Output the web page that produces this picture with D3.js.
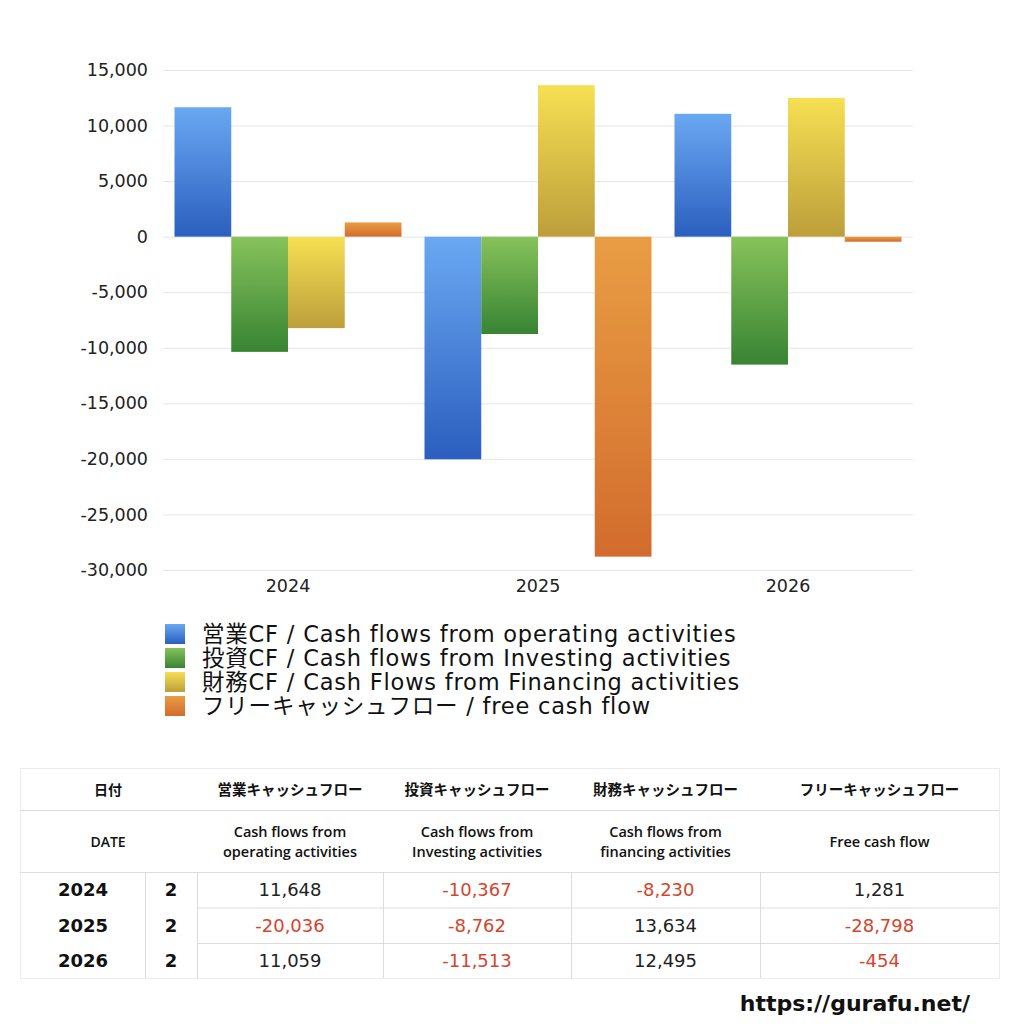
<!DOCTYPE html>
<html lang="ja">
<head>
  <meta charset="utf-8">
  <title>キャッシュフロー</title>
  <style>
    body { margin: 0; background: #fff; }
    svg { font-family: "DejaVu Sans", "Noto Sans CJK JP", sans-serif; }
    .hd { font-family: "Open Sans", "Noto Sans CJK JP", sans-serif; }
  </style>
</head>
<body>
  <script src="https://cdn.jsdelivr.net/npm/d3@7"></script>
  <script>
    var width = 1024;
    var height = 1024;

    // data
    var years = ["2024", "2025", "2026"];
    var counts = [2, 2, 2];
    var operating = [11648, -20036, 11059];
    var investing = [-10367, -8762, -11513];
    var financing = [-8230, 13634, 12495];
    var freeCash = [1281, -28798, -454];
    var yTicks = [15000, 10000, 5000, 0, -5000, -10000, -15000, -20000, -25000, -30000];

    var legendLabels = [
      "営業CF / Cash flows from operating activities",
      "投資CF / Cash flows from Investing activities",
      "財務CF / Cash Flows from Financing activities",
      "フリーキャッシュフロー / free cash flow"
    ];
    var headJa = ["営業キャッシュフロー", "投資キャッシュフロー", "財務キャッシュフロー", "フリーキャッシュフロー"];
    var headEn = [["Cash flows from", "operating activities"], ["Cash flows from", "Investing activities"],
                  ["Cash flows from", "financing activities"], ["Free cash flow"]];

    var series = [operating, investing, financing, freeCash];
    var grads = [["#6aa8f2", "#2b5fbf"], ["#87c25b", "#388433"], ["#f6e052", "#bd9e3b"], ["#e99d43", "#d26c2d"]];

    var fmt = d3.formatLocale({ decimal: ".", thousands: ",", grouping: [3], currency: ["", ""], minus: "-" }).format(",");

    var svg = d3.select("body").append("svg")
                .attr("width", width)
                .attr("height", height);

    var defs = svg.append("defs");
    grads.forEach(function(g, i) {
      var lg = defs.append("linearGradient")
                   .attr("id", "g" + i)
                   .attr("x1", 0).attr("y1", 0).attr("x2", 0).attr("y2", 1);
      lg.append("stop").attr("offset", "0%").attr("stop-color", g[0]);
      lg.append("stop").attr("offset", "100%").attr("stop-color", g[1]);
    });

    // chart
    var plotLeft = 163, plotRight = 913, plotTop = 70, plotBottom = 570;

    var y = d3.scaleLinear().domain([-30000, 15000]).range([plotBottom, plotTop]);
    var x0 = d3.scaleBand().domain(years).range([plotLeft, plotRight]).paddingInner(0.092).paddingOuter(0.046);
    var x1 = d3.scaleBand().domain(d3.range(series.length)).range([0, x0.bandwidth()]);

    var grid = svg.append("g");
    grid.selectAll("line").data(yTicks).enter().append("line")
        .attr("x1", plotLeft).attr("x2", plotRight)
        .attr("y1", function(d) { return y(d) + 0.5; })
        .attr("y2", function(d) { return y(d) + 0.5; })
        .attr("stroke", "#e6e6e6").attr("stroke-width", 1);

    var yAxis = svg.append("g")
        .attr("transform", "translate(" + (plotLeft - 15) + ",0)")
        .call(d3.axisLeft(y).tickValues(yTicks).tickSize(0).tickPadding(0).tickFormat(fmt));
    yAxis.select(".domain").remove();
    yAxis.selectAll("text").attr("font-size", 17.5).attr("fill", "#222")
         .attr("font-family", "'DejaVu Sans', sans-serif");

    var xAxis = svg.append("g")
        .attr("transform", "translate(0," + (plotBottom + 10) + ")")
        .call(d3.axisBottom(x0).tickSize(0).tickPadding(0));
    xAxis.select(".domain").remove();
    xAxis.selectAll("text").attr("font-size", 17.5).attr("fill", "#222")
         .attr("font-family", "'DejaVu Sans', sans-serif");

    var groups = svg.append("g").selectAll("g").data(years).enter().append("g")
        .attr("transform", function(d) { return "translate(" + x0(d) + ",0)"; });

    groups.selectAll("rect")
        .data(function(d, i) { return series.map(function(s, k) { return { k: k, v: s[i] }; }); })
        .enter().append("rect")
        .attr("x", function(d) { return x1(d.k); })
        .attr("width", x1.bandwidth())
        .attr("y", function(d) { return y(Math.max(0, d.v)); })
        .attr("height", function(d) { return Math.abs(y(d.v) - y(0)); })
        .attr("fill", function(d) { return "url(#g" + d.k + ")"; });

    // legend
    var legend = svg.append("g").attr("transform", "translate(165,624)");
    legendLabels.forEach(function(t, i) {
      legend.append("rect")
            .attr("x", 0).attr("y", i * 24)
            .attr("width", 20).attr("height", 20)
            .attr("fill", "url(#g" + i + ")");
      legend.append("text")
            .attr("x", 37).attr("y", i * 24 + 18)
            .attr("font-size", 22.5).attr("letter-spacing", 0.8).attr("fill", "#111")
            .text(t);
    });

    // table
    var tl = 20, tr = 999;
    var rowY = [768, 810, 872, 907.5, 943, 978];
    var colX = [20, 145, 197, 383, 571, 760, 999];
    var lineColor = "#dcdcdc";
    var tbl = svg.append("g");

    tbl.append("rect").attr("x", tl + 0.5).attr("y", rowY[0] + 0.5)
       .attr("width", tr - tl).attr("height", rowY[5] - rowY[0])
       .attr("fill", "none").attr("stroke", "#ececec");

    [rowY[1], rowY[2]].forEach(function(yy) {
      tbl.append("line").attr("x1", tl).attr("x2", tr).attr("y1", yy + 0.5).attr("y2", yy + 0.5)
         .attr("stroke", lineColor);
    });
    [rowY[3], rowY[4]].forEach(function(yy) {
      tbl.append("line").attr("x1", colX[2]).attr("x2", tr).attr("y1", yy + 0.5).attr("y2", yy + 0.5)
         .attr("stroke", lineColor);
    });
    colX.slice(1, 6).forEach(function(xx) {
      tbl.append("line").attr("x1", xx + 0.5).attr("x2", xx + 0.5).attr("y1", rowY[2]).attr("y2", rowY[5])
         .attr("stroke", lineColor);
    });

    var colCenter = function(i) { return (colX[i + 2] + colX[i + 3]) / 2; };

    tbl.append("text").attr("class", "hd").attr("x", 108).attr("y", 795).attr("text-anchor", "middle")
       .attr("font-size", 14).attr("font-weight", "bold").attr("fill", "#111").text("日付");
    tbl.append("text").attr("class", "hd").attr("x", 108).attr("y", 847).attr("text-anchor", "middle")
       .attr("font-size", 14).attr("font-weight", 600).attr("fill", "#111").text("DATE");

    headJa.forEach(function(t, i) {
      tbl.append("text").attr("class", "hd").attr("x", colCenter(i)).attr("y", 795).attr("text-anchor", "middle")
         .attr("font-size", 14.5).attr("font-weight", "bold").attr("fill", "#111").text(t);
      var lines = headEn[i];
      lines.forEach(function(l, j) {
        var yy = lines.length === 1 ? 847 : 837 + j * 20;
        tbl.append("text").attr("class", "hd").attr("x", colCenter(i)).attr("y", yy).attr("text-anchor", "middle")
           .attr("font-size", 14.5).attr("font-weight", 600).attr("fill", "#111").text(l);
      });
    });

    years.forEach(function(yr, r) {
      var cy = (rowY[r + 2] + rowY[r + 3]) / 2 + 6.5;
      tbl.append("text").attr("x", 83).attr("y", cy).attr("text-anchor", "middle")
         .attr("font-size", 18).attr("font-weight", "bold").attr("fill", "#111").text(yr);
      tbl.append("text").attr("x", 171).attr("y", cy).attr("text-anchor", "middle")
         .attr("font-size", 18).attr("font-weight", "bold").attr("fill", "#111").text(counts[r]);
      series.forEach(function(s, k) {
        tbl.append("text").attr("x", colCenter(k)).attr("y", cy).attr("text-anchor", "middle")
           .attr("font-size", 18).attr("fill", s[r] < 0 ? "#d4452e" : "#222").text(fmt(s[r]));
      });
    });

    svg.append("text").attr("x", 970).attr("y", 1011).attr("text-anchor", "end")
       .attr("font-size", 22).attr("font-weight", "bold").attr("fill", "#111")
       .text("https://gurafu.net/");
  </script>
</body>
</html>
